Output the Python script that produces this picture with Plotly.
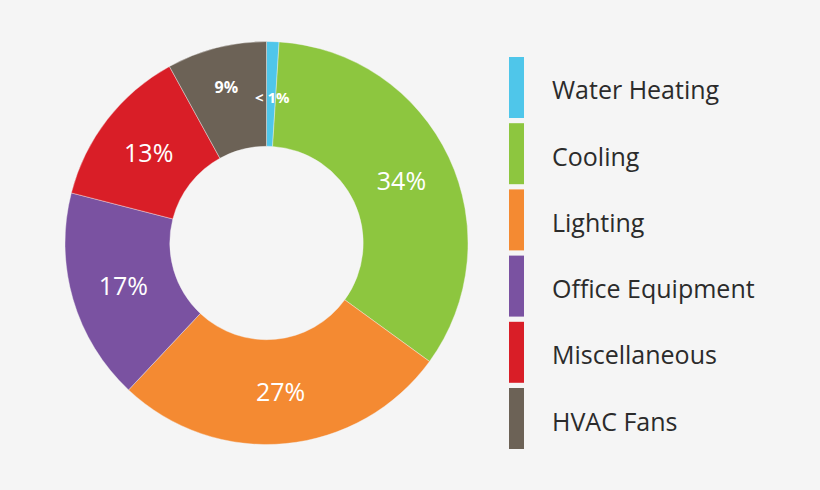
import plotly.graph_objects as go

categories = ['Water Heating', 'Cooling', 'Lighting', 'Office Equipment', 'Miscellaneous', 'HVAC Fans']
shares = [1, 34, 27, 17, 13, 8]
slice_text = ['', '34%', '27%', '17%', '13%', '9%']
small_label = '< 1%'
colors = ['#4fc6ea', '#8dc63f', '#f48a32', '#7a52a1', '#d91e27', '#6c6256']

W, H = 820, 490
bg = '#f5f5f5'
font = 'Open Sans'

fig = go.Figure()
fig.add_trace(go.Pie(
    labels=categories, values=shares, text=slice_text,
    textinfo='text', textposition='inside', insidetextorientation='horizontal',
    sort=False, direction='clockwise', rotation=0, hole=0.48,
    marker=dict(colors=colors, line=dict(color=bg, width=0.4)),
    insidetextfont=dict(family=font, size=[16, 25, 25, 25, 25, 16], color='white',
                        weight=[700, 400, 400, 400, 400, 700]),
    domain=dict(x=[65 / W, 468 / W], y=[45.5 / H, 448.5 / H]),
    showlegend=False, hoverinfo='label+percent',
))

# the tiny slice label does not fit in its slice
fig.add_annotation(text=small_label, x=272 / W, y=1 - 97 / H, xref='paper', yref='paper',
                   xanchor='center', yanchor='middle', showarrow=False,
                   font=dict(family=font, size=15, color='white', weight=700))

# legend: tall thin colour bars with labels
top, step, bar_h = 57, 66.2, 61
for i, (name, c) in enumerate(zip(categories, colors)):
    y0 = top + i * step
    fig.add_shape(type='rect', xref='paper', yref='paper',
                  x0=509 / W, x1=524 / W, y0=1 - (y0 + bar_h) / H, y1=1 - y0 / H,
                  fillcolor=c, line=dict(width=0))
    fig.add_annotation(text=name, x=550 / W, y=1 - (y0 + bar_h / 2 + 2) / H,
                       xref='paper', yref='paper', xanchor='left', yanchor='middle',
                       showarrow=False, font=dict(family=font, size=25, color='#2b2b2b'))

fig.update_layout(width=W, height=H, margin=dict(l=0, r=0, t=0, b=0),
                  paper_bgcolor=bg, plot_bgcolor=bg)
fig.write_html("out.html", config={'displayModeBar': False},
               post_script="document.body.style.margin='0';document.body.style.background='%s';" % bg)
